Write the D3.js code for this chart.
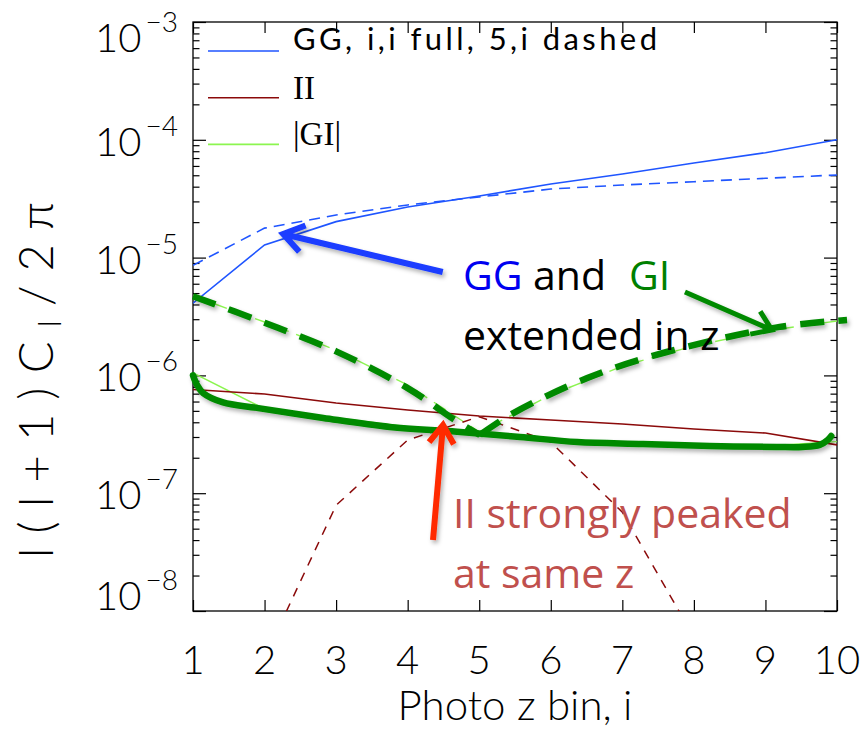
<!DOCTYPE html>
<html>
<head>
<meta charset="utf-8">
<script src="https://cdn.jsdelivr.net/npm/d3@7"></script>
<style>
  body { margin: 0; background: #fff; }
  svg { display: block; }
  .lbl { font-family: "Lato Light", Lato, "DejaVu Sans", sans-serif; fill: #000; }
  .note { font-family: "Open Sans", "Noto Sans", sans-serif; }
</style>
</head>
<body>
<div id="chart"></div>
<script>
// photo-z bins
const bins = [1, 2, 3, 4, 5, 6, 7, 8, 9, 10];

// GG spectra: i,i (full) and 5,i (dashed)
const ggDiag  = [4.1e-6, 1.28e-5, 2.02e-5, 2.69e-5, 3.33e-5, 4.22e-5, 5.13e-5, 6.36e-5, 7.77e-5, 1.0e-4];
const ggFive  = [8.6e-6, 1.78e-5, 2.30e-5, 2.80e-5, 3.27e-5, 3.82e-5, 4.13e-5, 4.41e-5, 4.71e-5, 5.03e-5];
// II spectra
const iiDiag  = [7.6e-7, 6.95e-7, 5.83e-7, 5.08e-7, 4.52e-7, 4.18e-7, 3.87e-7, 3.51e-7, 3.24e-7, 2.57e-7];
const iiFive  = [null, 4.0e-9, 7.9e-8, 2.83e-7, 4.46e-7, 2.72e-7, 6.9e-8, 6.0e-9, null, null];
// |GI| spectra
const giDiag  = [1.05e-6, 5.19e-7, 4.35e-7, 3.67e-7, 3.33e-7, 2.87e-7, 2.68e-7, 2.57e-7, 2.52e-7, 2.74e-7];
const giFive  = [4.72e-6, 2.84e-6, 1.64e-6, 8.29e-7, 3.31e-7, 6.82e-7, 1.20e-6, 1.78e-6, 2.38e-6, 2.90e-6];

// hand drawn highlight strokes over the GI curves, [bin, value]
const hiliteFull = [[1, 1.0e-6], [1.056, 8.3e-7], [1.14, 7.1e-7], [1.42, 5.9e-7], [1.89, 5.3e-7],
  [2.82, 4.35e-7], [3.75, 3.65e-7], [4.69, 3.33e-7], [5.57, 3.0e-7], [6.37, 2.72e-7], [7.29, 2.62e-7],
  [8.22, 2.52e-7], [9.16, 2.47e-7], [9.52, 2.47e-7], [9.76, 2.57e-7], [9.87, 2.83e-7], [9.92, 3.06e-7]];
const hiliteDashL = [[1, 4.7e-6], [2, 2.8e-6], [3, 1.6e-6], [4, 7.8e-7], [4.66, 4.18e-7], [5.01, 3.12e-7]];
const hiliteDashR = [[5.01, 3.12e-7], [5.43, 4.61e-7], [6.51, 9.5e-7], [7.62, 1.58e-6], [9.2, 2.58e-6], [10.14, 2.95e-6]];

// annotation arrows [tail, tip]
const arrowGG = [[4.49, 7.55e-6], [2.26, 1.585e-5]];
const arrowGI = [[7.875, 5.1e-6], [9.09, 2.43e-6]];
const arrowII = [[4.354, 4.0e-8], [4.494, 3.79e-7]];

const yTickExps = [-3, -4, -5, -6, -7, -8];
const legendLabels = ["GG, i,i full, 5,i dashed", "II", "|GI|"];
const legendColors = ["#1f55ff", "#8b0a0a", "#8cf550"];

const width = 867, height = 730;
const margin = {top: 22, right: 30, bottom: 119, left: 193};
const innerWidth = width - margin.left - margin.right;
const innerHeight = height - margin.top - margin.bottom;

const svg = d3.select("#chart").append("svg")
  .attr("width", width).attr("height", height);

const defs = svg.append("defs");
defs.append("clipPath").attr("id", "plotclip")
  .append("rect").attr("width", innerWidth).attr("height", innerHeight);
defs.append("filter").attr("id", "shadow")
  .attr("x", "-20%").attr("y", "-20%").attr("width", "140%").attr("height", "140%")
  .append("feDropShadow")
  .attr("dx", 2).attr("dy", 3).attr("stdDeviation", 2)
  .attr("flood-color", "#000").attr("flood-opacity", 0.3);

const g = svg.append("g").attr("transform", `translate(${margin.left},${margin.top})`);

const xScale = d3.scaleLinear().domain([1, 10]).range([0, innerWidth]);
const yScale = d3.scaleLog().domain([1e-8, 1e-3]).range([innerHeight, 0]);

// ticks
const majors = yTickExps.map(e => Math.pow(10, e));
const minors = [];
for (let e = -8; e < -3; e++) for (let k = 2; k <= 9; k++) minors.push(k * Math.pow(10, e));

const tickAxis = (axis, tr) => {
  const a = g.append("g").attr("transform", tr).call(axis);
  a.select(".domain").remove();
  a.selectAll("line").attr("stroke", "#000").attr("stroke-width", 1.2);
  a.selectAll("text").remove();
};
tickAxis(d3.axisLeft(yScale).tickValues(majors).tickSize(-13), "translate(0,0)");
tickAxis(d3.axisLeft(yScale).tickValues(minors).tickSize(-6.5), "translate(0,0)");
tickAxis(d3.axisRight(yScale).tickValues(majors).tickSize(-13), `translate(${innerWidth},0)`);
tickAxis(d3.axisRight(yScale).tickValues(minors).tickSize(-6.5), `translate(${innerWidth},0)`);
tickAxis(d3.axisBottom(xScale).tickValues(bins).tickSize(-11), `translate(0,${innerHeight})`);
tickAxis(d3.axisTop(xScale).tickValues(bins).tickSize(-11), "translate(0,0)");

g.append("rect").attr("width", innerWidth).attr("height", innerHeight)
  .attr("fill", "none").attr("stroke", "#000").attr("stroke-width", 1.3);

// tick labels
yTickExps.forEach((e, k) => {
  const off = k === 0 ? 30 : (k === yTickExps.length - 1 ? -1 : 16);
  const t = g.append("text").attr("class", "lbl")
    .attr("x", -15).attr("y", yScale(Math.pow(10, e)) + off)
    .attr("text-anchor", "end").style("font-size", "40px");
  t.append("tspan").text("10");
  t.append("tspan").attr("dy", -20).attr("dx", 4).style("font-size", "28px").text("\u2212" + Math.abs(e));
});

g.selectAll(".xlbl").data(bins).join("text")
  .attr("class", "lbl xlbl")
  .attr("x", d => xScale(d)).attr("y", innerHeight + 63)
  .attr("text-anchor", "middle").style("font-size", "40px")
  .text(d => d);

g.append("text").attr("class", "lbl")
  .attr("x", innerWidth / 2).attr("y", innerHeight + 109)
  .attr("text-anchor", "middle").style("font-size", "42px")
  .text("Photo z bin, i");

const yt = svg.append("text").attr("class", "lbl")
  .attr("transform", "translate(53,380) rotate(-90)")
  .attr("text-anchor", "middle").style("font-size", "47px")
  .attr("textLength", 356).attr("lengthAdjust", "spacing");
yt.append("tspan").text("l(l+1)C");
yt.append("tspan").attr("dy", 8).style("font-size", "32px").text("l");
yt.append("tspan").attr("dy", -8).text("/2\u03c0");

// data lines
const line = d3.line()
  .defined(d => d != null)
  .x((d, k) => xScale(bins[k]))
  .y(d => yScale(d));

const plot = g.append("g").attr("clip-path", "url(#plotclip)");
const series = [
  {v: giDiag, c: legendColors[2], w: 1.4, dash: null},
  {v: giFive, c: legendColors[2], w: 1.4, dash: "14,8"},
  {v: iiFive, c: legendColors[1], w: 1.5, dash: "9,8"},
  {v: iiDiag, c: legendColors[1], w: 1.6, dash: null},
  {v: ggFive, c: legendColors[0], w: 1.6, dash: "11,7"},
  {v: ggDiag, c: legendColors[0], w: 1.6, dash: null}
];
series.forEach(s => {
  plot.append("path").attr("d", line(s.v))
    .attr("fill", "none").attr("stroke", s.c).attr("stroke-width", s.w)
    .attr("stroke-dasharray", s.dash);
});

// legend
legendLabels.forEach((lab, k) => {
  const ly = 29 + k * 46.7;
  g.append("line").attr("x1", 15).attr("x2", 86).attr("y1", ly).attr("y2", ly)
    .attr("stroke", legendColors[k]).attr("stroke-width", 1.6);
  const t = g.append("text").attr("x", 100).attr("y", ly - 1 + (k ? 2 : 0));
  if (k === 0) {
    t.style("font-family", "Lato, sans-serif").style("font-size", "31px")
      .attr("textLength", 364).attr("lengthAdjust", "spacing");
  } else {
    t.style("font-family", "'Liberation Serif', serif").style("font-size", "33px");
  }
  t.text(lab);
});

// highlight strokes
const pline = d3.line().x(d => xScale(d[0])).y(d => yScale(d[1])).curve(d3.curveCatmullRom);
const hl = g.append("g").attr("filter", "url(#shadow)");
hl.append("path").attr("d", pline(hiliteFull)).attr("fill", "none")
  .attr("stroke", "#008a00").attr("stroke-width", 6.5).attr("stroke-linecap", "round");
[hiliteDashL, hiliteDashR].forEach(p => {
  hl.append("path").attr("d", pline(p)).attr("fill", "none")
    .attr("stroke", "#008a00").attr("stroke-width", 6.5).attr("stroke-dasharray", "24,14");
});

// arrows
const arrow = (a, color, w, len) => {
  const x0 = xScale(a[0][0]), y0 = yScale(a[0][1]);
  const x1 = xScale(a[1][0]), y1 = yScale(a[1][1]);
  const ang = Math.atan2(y1 - y0, x1 - x0), th = 0.6;
  const p1 = [x1 - len * Math.cos(ang - th), y1 - len * Math.sin(ang - th)];
  const p2 = [x1 - len * Math.cos(ang + th), y1 - len * Math.sin(ang + th)];
  hl.append("path")
    .attr("d", `M${x0},${y0}L${x1},${y1}M${p1[0]},${p1[1]}L${x1},${y1}L${p2[0]},${p2[1]}`)
    .attr("fill", "none").attr("stroke", color).attr("stroke-width", w)
    .attr("stroke-linejoin", "miter");
};
arrow(arrowGG, "#1a3cff", 6, 24);
arrow(arrowGI, "#008a00", 5, 22);
arrow(arrowII, "#ff2a00", 6, 22);

// annotation texts
const note = (y, parts) => {
  const t = svg.append("text").attr("class", "note").attr("y", y)
    .style("font-size", "41px");
  parts.forEach(p => t.append("tspan").attr("x", p[2]).attr("fill", p[1]).text(p[0]));
};
note(290, [["GG", "#0000f0", 463], ["and", "#000", 533], ["GI", "#008000", 629]]);
note(350, [["extended in z", "#000", 463]]);
note(528, [["II strongly peaked", "#c0504d", 453]]);
note(588, [["at same z", "#c0504d", 453]]);
</script>
</body>
</html>
